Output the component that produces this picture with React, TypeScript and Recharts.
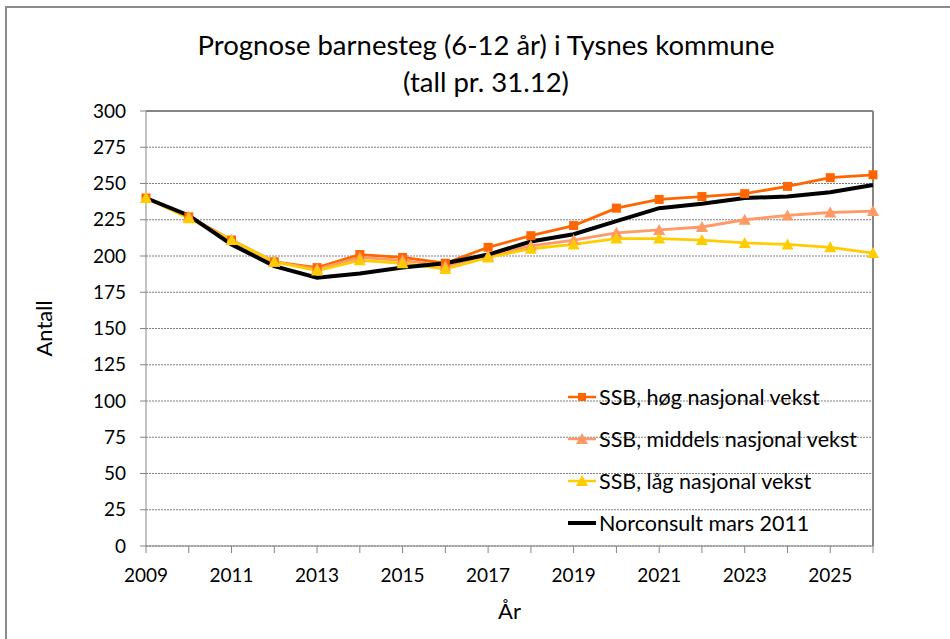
import { LineChart, Line, XAxis, YAxis, CartesianGrid, ReferenceLine } from "recharts";

const years = [2009, 2010, 2011, 2012, 2013, 2014, 2015, 2016, 2017, 2018, 2019, 2020, 2021, 2022, 2023, 2024, 2025, 2026];
const hoeg = [240, 227, 211, 196, 192, 201, 199, 195, 206, 214, 221, 233, 239, 241, 243, 248, 254, 256];
const middels = [240, 227, 211, 196, 191, 199, 197, 193, 200, 207, 211, 216, 218, 220, 225, 228, 230, 231];
const laag = [240, 226, 211, 196, 190, 197, 195, 191, 199, 205, 208, 212, 212, 211, 209, 208, 206, 202];
const norconsult = [240, 228, 208, 193, 185, 188, 192, 195, 201, 210, 215, 224, 233, 236, 240, 241, 244, 249];
const yTicks = [0, 25, 50, 75, 100, 125, 150, 175, 200, 225, 250, 275, 300];

const data = years.map((y, i) => ({
  year: y,
  hoeg: hoeg[i],
  middels: middels[i],
  laag: laag[i],
  norconsult: norconsult[i],
}));

const ORANGE = "#ff6600";
const SALMON = "#ff9966";
const YELLOW = "#ffcc00";
const FONT = "Lato, 'Open Sans', sans-serif";

const Square = (props: any) => {
  const { cx, cy, fill } = props;
  if (cx == null || cy == null) return null;
  return <rect x={cx - 4.5} y={cy - 4.5} width={9} height={9} fill={fill} />;
};

const Triangle = (props: any) => {
  const { cx, cy, fill } = props;
  if (cx == null || cy == null) return null;
  return <polygon points={`${cx},${cy - 6} ${cx + 6},${cy + 5} ${cx - 6},${cy + 5}`} fill={fill} />;
};

const legendItems = [
  { label: "SSB, høg nasjonal vekst", color: ORANGE, marker: "square" },
  { label: "SSB, middels nasjonal vekst", color: SALMON, marker: "triangle" },
  { label: "SSB, låg nasjonal vekst", color: YELLOW, marker: "triangle" },
  { label: "Norconsult mars 2011", color: "#000", marker: "none" },
];

// legend drawn as plain HTML so recharts does not reserve room for it
const ChartLegend = () => (
  <div style={{ position: "absolute", left: 567, top: 376, fontFamily: FONT, fontSize: 21.5, color: "#000" }}>
    {legendItems.map((it) => (
      <div key={it.label} style={{ display: "flex", alignItems: "center", height: 42 }}>
        <svg width={30} height={14} style={{ marginRight: 2 }}>
          <line x1={1} y1={7} x2={29} y2={7} stroke={it.color} strokeWidth={it.marker === "none" ? 4 : 2.5} />
          {it.marker === "square" && <rect x={11} y={3} width={8} height={8} fill={it.color} />}
          {it.marker === "triangle" && <polygon points="15,1 21,12 9,12" fill={it.color} />}
        </svg>
        <span>{it.label}</span>
      </div>
    ))}
  </div>
);

export default function App() {
  return (
    <div style={{ position: "absolute", left: 0, top: 0, width: 950, height: 639, overflow: "hidden", background: "#fff" }}>
      <div style={{ position: "absolute", left: 5, top: 6, width: 1200, height: 1200, borderLeft: "2px solid #8c8c8c", borderTop: "2px solid #8c8c8c" }} />
      <div style={{ position: "absolute", left: 0, width: 972, top: 26, textAlign: "center", fontFamily: FONT, fontSize: 27.5, lineHeight: "37px", color: "#000" }}>
        Prognose barnesteg (6-12 år) i Tysnes kommune
        <br />
        (tall pr. 31.12)
      </div>
      <LineChart width={950} height={639} data={data} margin={{ top: 111, right: 77, left: 86, bottom: 53 }} style={{ position: "absolute", left: 0, top: 0 }}>
        <CartesianGrid vertical={false} stroke="#808080" strokeDasharray="2 1" />
        <XAxis
          dataKey="year"
          type="number"
          domain={[2009, 2026]}
          ticks={years}
          interval={0}
          tickFormatter={(v: number) => (v % 2 === 1 ? String(v) : "")}
          tick={{ fill: "#000", fontSize: 19, fontFamily: FONT }}
          tickSize={7}
          tickMargin={16}
          height={40}
          stroke="#868686"
          label={{ value: "År", position: "insideBottom", offset: -33, fill: "#000", fontSize: 22, fontFamily: FONT }}
        />
        <YAxis
          domain={[0, 300]}
          ticks={yTicks}
          interval={0}
          tick={{ fill: "#000", fontSize: 19, fontFamily: FONT }}
          tickSize={6}
          tickMargin={14}
          width={60}
          stroke="#868686"
          label={{ value: "Antall", angle: -90, position: "insideLeft", offset: -42, fill: "#000", fontSize: 22, fontFamily: FONT, style: { textAnchor: "middle" } }}
        />
        <ReferenceLine y={300} stroke="#868686" strokeWidth={2} />
        <ReferenceLine x={2026} stroke="#868686" strokeWidth={2} />
        <Line dataKey="hoeg" stroke={ORANGE} strokeWidth={2.8} dot={<Square fill={ORANGE} />} isAnimationActive={false} />
        <Line dataKey="middels" stroke={SALMON} strokeWidth={2.8} dot={<Triangle fill={SALMON} />} isAnimationActive={false} />
        <Line dataKey="laag" stroke={YELLOW} strokeWidth={2.8} dot={<Triangle fill={YELLOW} />} isAnimationActive={false} />
        <Line dataKey="norconsult" stroke="#000" strokeWidth={4} dot={false} isAnimationActive={false} />
      </LineChart>
      <ChartLegend />
    </div>
  );
}
